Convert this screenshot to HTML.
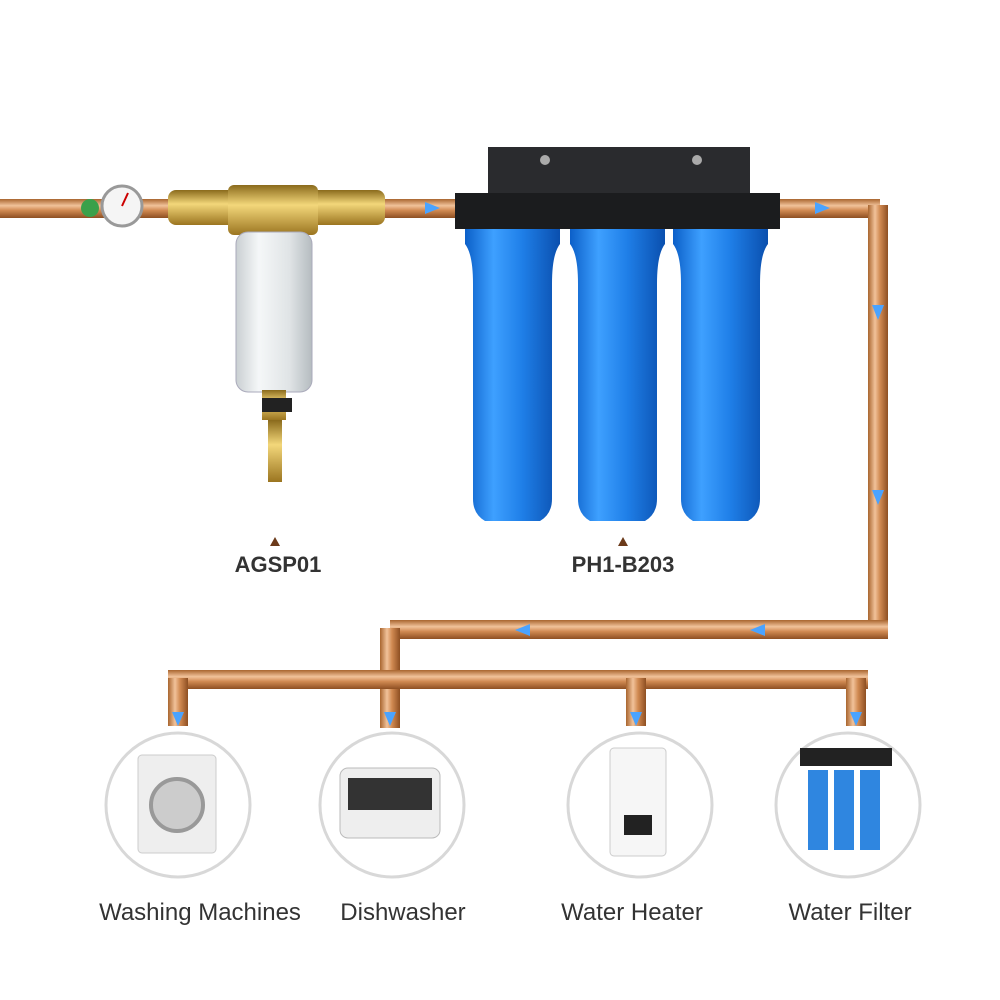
<!DOCTYPE html>
<html><head><meta charset="utf-8"><style>
html,body{margin:0;padding:0;background:#fff}
svg{display:block}
text{font-family:"Liberation Sans",sans-serif}
</style></head><body>
<svg width="1000" height="1000" viewBox="0 0 1000 1000" xmlns="http://www.w3.org/2000/svg">
<defs>
<linearGradient id="ch" x1="0" y1="0" x2="0" y2="1">
<stop offset="0" stop-color="#a9652f"/><stop offset="0.35" stop-color="#f1c29a"/><stop offset="0.6" stop-color="#d18a52"/><stop offset="1" stop-color="#8e4f22"/></linearGradient>
<linearGradient id="cv" x1="0" y1="0" x2="1" y2="0">
<stop offset="0" stop-color="#a9652f"/><stop offset="0.35" stop-color="#f1c29a"/><stop offset="0.6" stop-color="#d18a52"/><stop offset="1" stop-color="#8e4f22"/></linearGradient>
<linearGradient id="blue" x1="0" y1="0" x2="1" y2="0">
<stop offset="0" stop-color="#0b5fc8"/><stop offset="0.3" stop-color="#3ea0ff"/><stop offset="0.6" stop-color="#1f7fe8"/><stop offset="1" stop-color="#0a4fae"/></linearGradient>
<linearGradient id="brass" x1="0" y1="0" x2="0" y2="1">
<stop offset="0" stop-color="#8a6a1c"/><stop offset="0.4" stop-color="#f3d77a"/><stop offset="1" stop-color="#9b7520"/></linearGradient>
<linearGradient id="glass" x1="0" y1="0" x2="1" y2="0">
<stop offset="0" stop-color="#c9cfd2"/><stop offset="0.3" stop-color="#f5f7f8"/><stop offset="0.7" stop-color="#e0e4e6"/><stop offset="1" stop-color="#b5bcc0"/></linearGradient>
</defs>
<!-- top pipe -->
<rect x="0" y="199" width="880" height="19" fill="url(#ch)"/>
<rect x="868" y="205" width="20" height="420" fill="url(#cv)"/>
<rect x="390" y="620" width="498" height="19" fill="url(#ch)"/>
<rect x="380" y="628" width="20" height="100" fill="url(#cv)"/>
<rect x="168" y="670" width="700" height="19" fill="url(#ch)"/>
<rect x="168" y="678" width="20" height="48" fill="url(#cv)"/>
<rect x="626" y="678" width="20" height="48" fill="url(#cv)"/>
<rect x="846" y="678" width="20" height="48" fill="url(#cv)"/>
<!-- arrows -->
<g fill="#4aa3ff">
<polygon points="425,202 440,208 425,214"/><polygon points="815,202 830,208 815,214"/>
<polygon points="872,305 884,305 878,320"/><polygon points="872,490 884,490 878,505"/>
<polygon points="765,624 750,630 765,636"/><polygon points="530,624 515,630 530,636"/>
<polygon points="172,712 184,712 178,726"/><polygon points="384,712 396,712 390,726"/>
<polygon points="630,712 642,712 636,726"/><polygon points="850,712 862,712 856,726"/>
</g>
<!-- gauge -->
<circle cx="90" cy="208" r="9" fill="#3aa04a"/>
<circle cx="122" cy="206" r="20" fill="#f5f5f5" stroke="#999" stroke-width="3"/>
<line x1="122" y1="206" x2="128" y2="193" stroke="#c00" stroke-width="2"/>
<!-- brass prefilter -->
<rect x="168" y="190" width="217" height="35" rx="8" fill="url(#brass)"/>
<rect x="228" y="185" width="90" height="50" rx="6" fill="url(#brass)"/>
<rect x="236" y="232" width="76" height="160" rx="12" fill="url(#glass)" stroke="#aab" />
<rect x="262" y="390" width="24" height="30" fill="url(#brass)"/>
<rect x="262" y="398" width="30" height="14" fill="#222"/>
<rect x="268" y="420" width="14" height="62" fill="url(#brass)"/>
<!-- big filter -->
<rect x="488" y="147" width="262" height="55" fill="#2a2b2e"/>
<circle cx="545" cy="160" r="5" fill="#aaa"/><circle cx="697" cy="160" r="5" fill="#aaa"/>
<rect x="455" y="193" width="325" height="36" fill="#1b1c1e"/>
<g fill="url(#blue)">
<path d="M465 229h95v15q-8 10-8 40v215q0 15-12 22h-55q-12-7-12-22v-215q0-30-8-40z"/>
<path d="M570 229h95v15q-8 10-8 40v215q0 15-12 22h-55q-12-7-12-22v-215q0-30-8-40z"/>
<path d="M673 229h95v15q-8 10-8 40v215q0 15-12 22h-55q-12-7-12-22v-215q0-30-8-40z"/>
</g>
<!-- labels -->
<polygon points="270,546 280,546 275,537" fill="#6b3a1a"/>
<polygon points="618,546 628,546 623,537" fill="#6b3a1a"/>
<text x="278" y="572" text-anchor="middle" font-size="22" font-weight="bold" fill="#333">AGSP01</text>
<text x="623" y="572" text-anchor="middle" font-size="22" font-weight="bold" fill="#333">PH1-B203</text>
<!-- circles -->
<g fill="#fff" stroke="#d8d8d8" stroke-width="3">
<circle cx="178" cy="805" r="72"/><circle cx="392" cy="805" r="72"/>
<circle cx="640" cy="805" r="72"/><circle cx="848" cy="805" r="72"/>
</g>
<rect x="138" y="755" width="78" height="98" rx="4" fill="#eee" stroke="#ccc"/>
<circle cx="177" cy="805" r="26" fill="#ccc" stroke="#999" stroke-width="4"/>
<rect x="340" y="768" width="100" height="70" rx="8" fill="#eee" stroke="#bbb"/>
<rect x="348" y="778" width="84" height="32" fill="#333"/>
<rect x="610" y="748" width="56" height="108" rx="4" fill="#f6f6f6" stroke="#ccc"/>
<rect x="624" y="815" width="28" height="20" fill="#222"/>
<rect x="800" y="748" width="92" height="18" fill="#222"/>
<rect x="808" y="770" width="20" height="80" fill="#2f86e0"/><rect x="834" y="770" width="20" height="80" fill="#2f86e0"/><rect x="860" y="770" width="20" height="80" fill="#2f86e0"/>
<g font-size="24" fill="#333" text-anchor="middle">
<text x="200" y="920">Washing Machines</text>
<text x="403" y="920">Dishwasher</text>
<text x="632" y="920">Water Heater</text>
<text x="850" y="920">Water Filter</text>
</g>
</svg>
</body></html>
